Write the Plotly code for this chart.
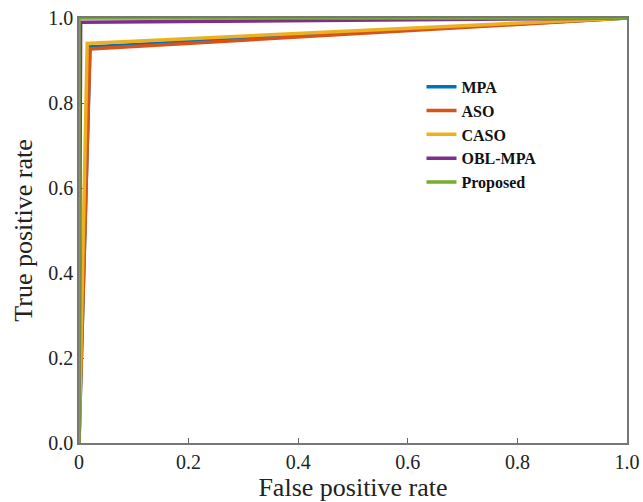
import plotly.graph_objects as go

names = ["MPA", "ASO", "CASO", "OBL-MPA", "Proposed"]
colors = ["#0072BD", "#D95319", "#EDB120", "#7E2F8E", "#77AC30"]
fpr = {
    "MPA": [0, 0.02, 1.0],
    "ASO": [0, 0.02, 1.0],
    "CASO": [0, 0.015, 1.0],
    "OBL-MPA": [0, 0.003, 1.0],
    "Proposed": [0, 0.0, 1.0],
}
tpr = {
    "MPA": [0, 0.932, 1.0],
    "ASO": [0, 0.927, 1.0],
    "CASO": [0, 0.94, 1.0],
    "OBL-MPA": [0, 0.99, 1.0],
    "Proposed": [0, 1.0, 1.0],
}
xticks = [0, 0.2, 0.4, 0.6, 0.8, 1.0]
xticklabels = ["0", "0.2", "0.4", "0.6", "0.8", "1.0"]
yticks = [0, 0.2, 0.4, 0.6, 0.8, 1.0]
yticklabels = ["0.0", "0.2", "0.4", "0.6", "0.8", "1.0"]

fig = go.Figure()
for n, c in zip(names, colors):
    fig.add_trace(go.Scatter(x=fpr[n], y=tpr[n], mode="lines", name=n,
                             line=dict(color=c, width=3.5), cliponaxis=False))

serif = "Liberation Serif, Times New Roman, serif"
fig.update_layout(
    width=643, height=502,
    margin=dict(l=79, r=16, t=18, b=59, autoexpand=False),
    paper_bgcolor="white", plot_bgcolor="white",
    font=dict(family=serif, color="#222"),
    legend=dict(x=0.625, y=0.878, xanchor="left", yanchor="top",
                font=dict(family=serif, size=16, weight="bold", color="#111"),
                bgcolor="rgba(0,0,0,0)", tracegroupgap=0),
    xaxis=dict(range=[0, 1], tickvals=xticks, ticktext=xticklabels,
               ticks="inside", ticklen=5, tickcolor="#666", automargin=False,
               ticklabeloverflow="allow",
               showline=True, linecolor="#777", linewidth=1.5, mirror=True,
               showgrid=False, zeroline=False, layer="below traces",
               tickfont=dict(size=20, family=serif, color="#222"),
               title=dict(text="False positive rate", font=dict(size=26, family=serif, color="#222"), standoff=0)),
    yaxis=dict(range=[0, 1], tickvals=yticks, ticktext=yticklabels,
               ticks="inside", ticklen=5, tickcolor="#666", automargin=False,
               ticklabeloverflow="allow",
               showline=True, linecolor="#777", linewidth=1.5, mirror=True,
               showgrid=False, zeroline=False, layer="below traces",
               tickfont=dict(size=20, family=serif, color="#222"),
               title=dict(text="True positive rate", font=dict(size=26, family=serif, color="#222"), standoff=8)),
)
fig.write_html("out.html", config={"displayModeBar": False},
               post_script="document.body.style.margin='0';document.body.style.overflow='hidden';")
